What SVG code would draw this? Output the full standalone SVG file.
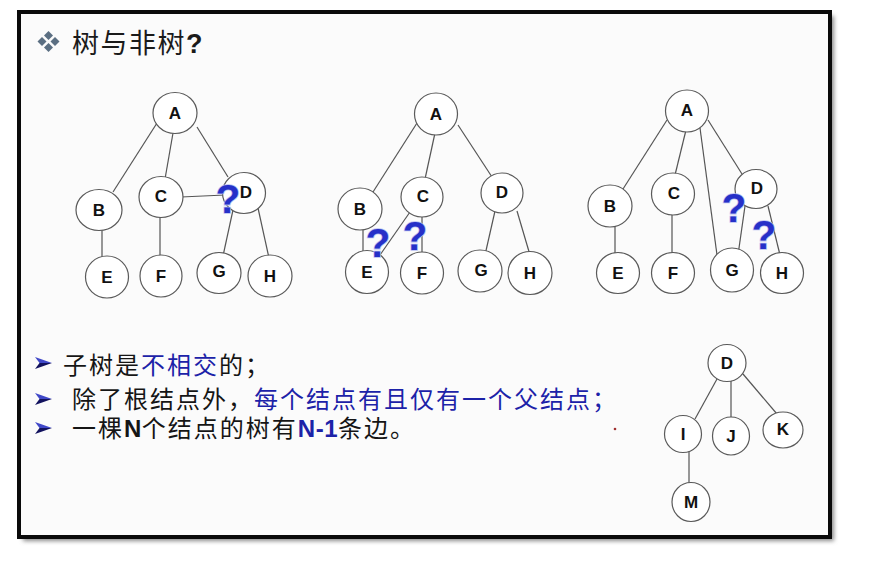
<svg xmlns="http://www.w3.org/2000/svg" width="871" height="568" viewBox="0 0 871 568">
<defs>
<style>
.nd{fill:#ffffff;stroke:#5a5a5a;stroke-width:1.2}
.lb{font-family:"Liberation Sans",Arial,sans-serif;font-weight:bold;font-size:17px;fill:#111;text-anchor:middle}
.ed{stroke:#555;stroke-width:1.2;fill:none}
.q{font-family:"Liberation Sans",Arial,sans-serif;font-weight:bold;font-size:40px;fill:#2630c8;stroke:#b8c0f2;stroke-width:1.6;paint-order:stroke;text-anchor:middle}
.tx{font-family:"Liberation Sans","Noto Sans CJK SC",sans-serif;font-size:24px;fill:#151515;letter-spacing:2px}
.bl{fill:#1c22a8}
.b{font-weight:bold;letter-spacing:0.5px}
.btop{fill:#4048c8}
.bbot{fill:#12125e}
</style>
<filter id="sh" x="-5%" y="-5%" width="110%" height="110%"><feGaussianBlur stdDeviation="2"/></filter>
<g id="arrowBullet">
<polygon class="btop" points="0,-6 17,0 4.5,0"/>
<polygon class="bbot" points="4.5,0 17,0 0,6"/>
</g>
</defs>
<rect x="0" y="0" width="871" height="568" fill="#ffffff"/>
<!-- frame -->
<rect x="23" y="16" width="811" height="525" fill="#8a8a8a" filter="url(#sh)"/>
<rect x="19" y="12" width="811" height="525" fill="#fbfbfb" stroke="#0a0a0a" stroke-width="4"/>

<!-- title -->
<g id="title">
<g fill="#5b6f82">
<polygon points="48.5,31 53,35.5 48.5,40 44,35.5"/>
<polygon points="42,37 46.5,41.5 42,46 37.5,41.5"/>
<polygon points="55,37 59.5,41.5 55,46 50.5,41.5"/>
<polygon points="48.5,43 53,47.5 48.5,52 44,47.5"/>
</g>
<text x="72" y="53" font-family="'Liberation Sans','Noto Sans CJK SC',sans-serif" font-size="27" fill="#1a1a1a" letter-spacing="1.5">树与非树<tspan font-weight="bold">?</tspan></text>
</g>

<!-- connectors -->
<g id="connectors" class="ed">
<!-- tree 1 -->
<line x1="157" y1="123" x2="113" y2="192"/>
<line x1="173" y1="133" x2="165" y2="179"/>
<line x1="197" y1="127" x2="228" y2="177"/>
<line x1="181" y1="197" x2="225" y2="195"/>
<line x1="102" y1="228" x2="102" y2="259"/>
<line x1="160" y1="215" x2="160" y2="258"/>
<line x1="233" y1="210" x2="223" y2="256"/>
<line x1="258" y1="208" x2="269" y2="258"/>
<!-- tree 2 -->
<line x1="417" y1="123" x2="373" y2="192"/>
<line x1="435" y1="133" x2="425" y2="179"/>
<line x1="458" y1="125" x2="492" y2="177"/>
<line x1="363" y1="228" x2="363" y2="259"/>
<line x1="410" y1="212" x2="380" y2="255"/>
<line x1="422" y1="215" x2="422" y2="254"/>
<line x1="495" y1="211" x2="485" y2="255"/>
<line x1="517" y1="211" x2="530" y2="255"/>
<!-- tree 3 -->
<line x1="667" y1="120" x2="623" y2="189"/>
<line x1="686" y1="130" x2="675" y2="175"/>
<line x1="700" y1="128" x2="717" y2="255"/>
<line x1="708" y1="120" x2="742" y2="174"/>
<line x1="615" y1="225" x2="615" y2="255"/>
<line x1="672" y1="213" x2="672" y2="255"/>
<line x1="745" y1="206" x2="738" y2="255"/>
<line x1="768" y1="206" x2="780" y2="255"/>
<!-- tree 4 -->
<line x1="717" y1="379" x2="695" y2="419"/>
<line x1="731" y1="380" x2="731" y2="419"/>
<line x1="743" y1="374" x2="777" y2="414"/>
<line x1="689" y1="450" x2="689" y2="485"/>
</g>

<!-- tree 1 nodes -->
<g id="t1A"><ellipse class="nd" cx="175" cy="113" rx="22" ry="20.5"/><text class="lb" x="175" y="119">A</text></g>
<g id="t1B"><ellipse class="nd" cx="99" cy="210" rx="23" ry="20.5"/><text class="lb" x="99" y="216">B</text></g>
<g id="t1C"><ellipse class="nd" cx="161" cy="197" rx="22" ry="20.5"/><text class="lb" x="161" y="202">C</text></g>
<g id="t1D"><ellipse class="nd" cx="244" cy="193" rx="21.5" ry="20.5"/><text class="lb" x="246" y="198">D</text></g>
<g id="t1E"><ellipse class="nd" cx="107" cy="277" rx="21.5" ry="21"/><text class="lb" x="107" y="283">E</text></g>
<g id="t1F"><ellipse class="nd" cx="161" cy="276" rx="21" ry="21"/><text class="lb" x="161" y="282">F</text></g>
<g id="t1G"><ellipse class="nd" cx="219" cy="273" rx="22" ry="20.5"/><text class="lb" x="219" y="277">G</text></g>
<g id="t1H"><ellipse class="nd" cx="270" cy="276" rx="22" ry="21"/><text class="lb" x="270" y="282">H</text></g>

<!-- tree 2 nodes -->
<g id="t2A"><ellipse class="nd" cx="436" cy="114" rx="21.5" ry="21"/><text class="lb" x="436" y="120">A</text></g>
<g id="t2B"><ellipse class="nd" cx="360" cy="209" rx="22" ry="21"/><text class="lb" x="360" y="215">B</text></g>
<g id="t2C"><ellipse class="nd" cx="422" cy="197" rx="21" ry="20"/><text class="lb" x="423" y="202">C</text></g>
<g id="t2D"><ellipse class="nd" cx="502" cy="193" rx="21" ry="20"/><text class="lb" x="502" y="198">D</text></g>
<g id="t2E"><ellipse class="nd" cx="367" cy="272" rx="21.5" ry="21.5"/><text class="lb" x="367" y="278">E</text></g>
<g id="t2F"><ellipse class="nd" cx="422" cy="273" rx="21.5" ry="21"/><text class="lb" x="422" y="279">F</text></g>
<g id="t2G"><ellipse class="nd" cx="480" cy="271" rx="22" ry="21"/><text class="lb" x="481" y="276">G</text></g>
<g id="t2H"><ellipse class="nd" cx="530" cy="273" rx="22" ry="21.5"/><text class="lb" x="530" y="279">H</text></g>

<!-- tree 3 nodes -->
<g id="t3A"><ellipse class="nd" cx="687" cy="111" rx="21.5" ry="21"/><text class="lb" x="687" y="116">A</text></g>
<g id="t3B"><ellipse class="nd" cx="610" cy="206" rx="22" ry="21"/><text class="lb" x="610" y="212">B</text></g>
<g id="t3C"><ellipse class="nd" cx="673" cy="194" rx="21.5" ry="21"/><text class="lb" x="674" y="199">C</text></g>
<g id="t3D"><ellipse class="nd" cx="756" cy="189" rx="21" ry="19.5"/><text class="lb" x="757" y="194">D</text></g>
<g id="t3E"><ellipse class="nd" cx="618" cy="273" rx="21.5" ry="20.5"/><text class="lb" x="618" y="279">E</text></g>
<g id="t3F"><ellipse class="nd" cx="673" cy="273" rx="21.5" ry="20.5"/><text class="lb" x="673" y="279">F</text></g>
<g id="t3G"><ellipse class="nd" cx="732" cy="270" rx="21.5" ry="22"/><text class="lb" x="732" y="276">G</text></g>
<g id="t3H"><ellipse class="nd" cx="782" cy="273" rx="21.5" ry="20.5"/><text class="lb" x="782" y="279">H</text></g>

<!-- tree 4 nodes -->
<g id="t4D"><ellipse class="nd" cx="727" cy="363" rx="19" ry="18.5"/><text class="lb" x="727" y="369">D</text></g>
<g id="t4I"><ellipse class="nd" cx="683" cy="434" rx="18.5" ry="18.5"/><text class="lb" x="683" y="440">I</text></g>
<g id="t4J"><ellipse class="nd" cx="731" cy="436" rx="18.5" ry="19"/><text class="lb" x="731" y="442">J</text></g>
<g id="t4K"><ellipse class="nd" cx="783" cy="430" rx="20" ry="18"/><text class="lb" x="783" y="435">K</text></g>
<g id="t4M"><ellipse class="nd" cx="691" cy="502" rx="19" ry="19.5"/><text class="lb" x="691" y="508">M</text></g>

<!-- question marks -->
<g id="questions">
<text class="q" x="228" y="213">?</text>
<text class="q" x="378" y="257">?</text>
<text class="q" x="415" y="250">?</text>
<text class="q" x="734" y="222">?</text>
<text class="q" x="764" y="249">?</text>
</g>

<!-- bullet list -->
<g id="bullets">
<use href="#arrowBullet" x="35" y="363"/>
<use href="#arrowBullet" x="35" y="399"/>
<use href="#arrowBullet" x="35" y="428"/>
<text class="tx" x="63" y="374">子树是<tspan class="bl">不相交</tspan>的；</text>
<text class="tx" x="72" y="408">除了根结点外，<tspan class="bl">每个结点有且仅有一个父结点；</tspan></text>
<text class="tx" x="72" y="437">一棵<tspan class="b">N</tspan>个结点的树有<tspan class="b bl">N-1</tspan>条边。</text>
</g>
<circle cx="615" cy="429" r="1.3" fill="#a03030"/>
</svg>
